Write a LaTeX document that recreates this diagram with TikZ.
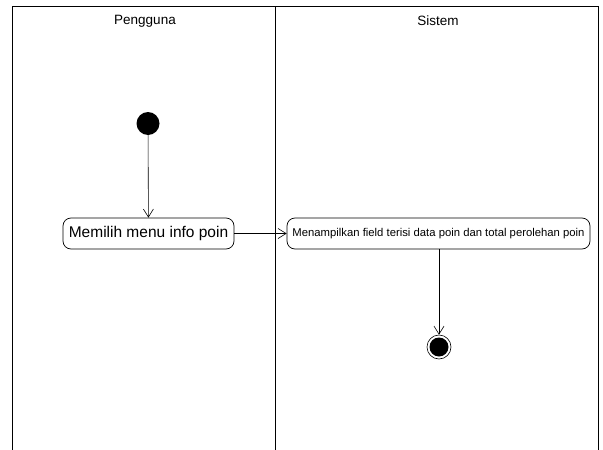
\documentclass[tikz,border=0pt]{standalone}
\usepackage{fontspec}
\setmainfont{Liberation Sans}
\usetikzlibrary{arrows.meta}
\begin{document}
\begin{tikzpicture}[x=1pt,y=-1pt,
  lane/.style={line width=1pt},
  action/.style={draw,rounded corners=8pt,line width=0.7pt,minimum height=31pt,inner sep=0pt},
  flow/.style={line width=0.6pt,-{Straight Barb[length=8pt,width=10pt,line width=0.6pt]}},
  header/.style={font=\fontsize{13.5}{15}\selectfont}]
\useasboundingbox (0,0) rectangle (603,450);
\draw[lane] (12,450) -- (12,6.5) -- (598,6.5) -- (598,450);
\draw[lane] (275.5,6.5) -- (275.5,450);
\node[header] (h1) at (145,21) {Pengguna};
\node[header] (h2) at (438,21) {Sistem};
\node[circle,fill=black,minimum size=23pt,inner sep=0pt] (start) at (148,123.5) {};
\node[action,minimum width=171pt,font=\fontsize{15.5}{17}\selectfont] (a1) at (148.5,233.5) {Memilih menu info poin};
\node[action,minimum width=303pt,font=\fontsize{11.3}{13}\selectfont] (a2) at (438.5,233.5) {Menampilkan field terisi data poin dan total perolehan poin};
\node[circle,draw,line width=0.6pt,minimum size=24pt,inner sep=0pt] (end) at (439,347) {};
\node[circle,fill=black,minimum size=19pt,inner sep=0pt] (endin) at (end) {};
\draw[flow] (start) -- (a1);
\draw[flow] (a1) -- (a2);
\draw[flow] (a2.south -| end) -- (end);
\end{tikzpicture}
\end{document}
